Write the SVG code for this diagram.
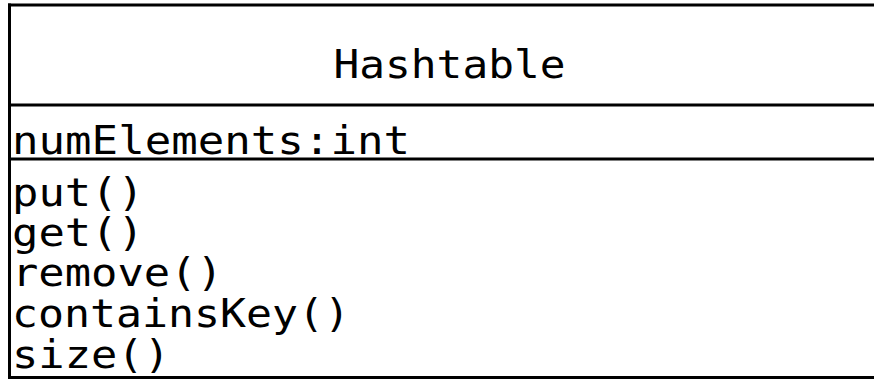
<svg xmlns="http://www.w3.org/2000/svg" width="874" height="379" viewBox="0 0 874 379">
  <style>
    .rule { stroke: #000; stroke-width: 3; fill: none; }
    .label { font-family: "DejaVu Sans Mono", "Liberation Mono", monospace; font-size: 39px; fill: #000; }
  </style>
  <rect width="874" height="379" fill="#fff"/>
  <g id="Hashtable">
    <!-- class box: the right edge runs past the canvas -->
    <line class="rule" x1="8" y1="5" x2="874" y2="5"/>
    <line class="rule" x1="9.5" y1="3.5" x2="9.5" y2="379"/>
    <line class="rule" x1="8" y1="105" x2="874" y2="105"/>
    <line class="rule" x1="8" y1="159" x2="874" y2="159"/>
    <line class="rule" x1="8" y1="377.5" x2="874" y2="377.5"/>
    <text class="label" x="449.5" y="78" text-anchor="middle" textLength="232" lengthAdjust="spacingAndGlyphs">Hashtable</text>
    <text class="label" x="12" y="154" textLength="398" lengthAdjust="spacingAndGlyphs">numElements:int</text>
    <text class="label" x="12" y="206" textLength="132" lengthAdjust="spacingAndGlyphs">put()</text>
    <text class="label" x="12" y="246" textLength="132" lengthAdjust="spacingAndGlyphs">get()</text>
    <text class="label" x="12" y="286" textLength="211" lengthAdjust="spacingAndGlyphs">remove()</text>
    <text class="label" x="12" y="327" textLength="338" lengthAdjust="spacingAndGlyphs">containsKey()</text>
    <text class="label" x="12" y="368" textLength="158" lengthAdjust="spacingAndGlyphs">size()</text>
  </g>
</svg>
